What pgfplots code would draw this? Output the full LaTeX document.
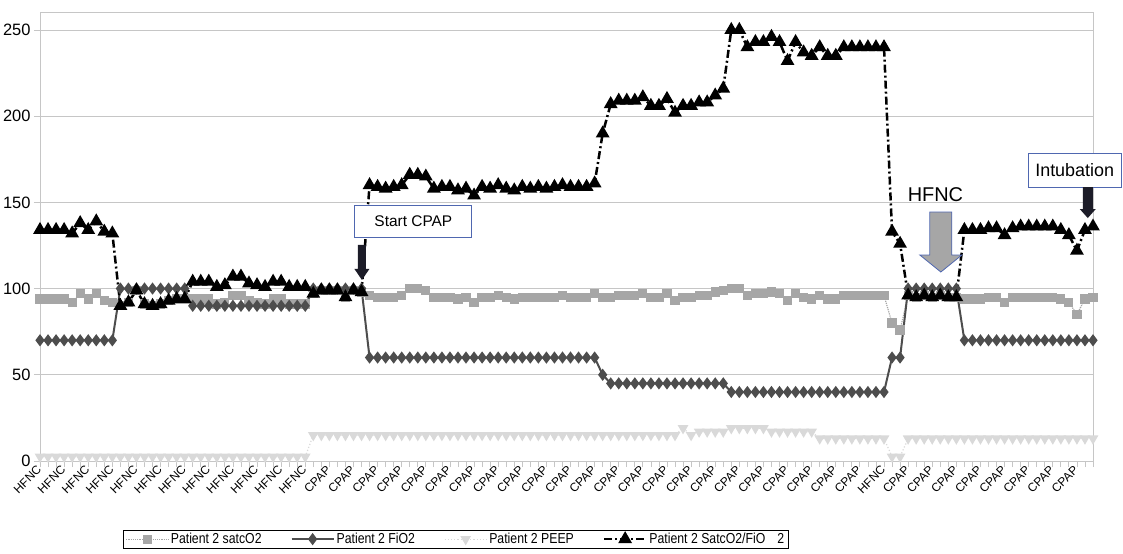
\documentclass[border=0pt]{standalone}
\usepackage{fontspec}
\setmainfont{Liberation Sans}
\newfontfamily\narrowfont[FakeStretch=0.85]{Liberation Sans}
\usepackage{pgfplots}
\usepackage{pgfplotstable}
\pgfplotsset{compat=1.18}

\definecolor{satc}{HTML}{A6A6A6}
\definecolor{fio}{HTML}{4D4D4D}
\definecolor{peep}{HTML}{D9D9D9}
\definecolor{gridc}{HTML}{C6C6C6}
\definecolor{boxblue}{HTML}{4F67B0}
\definecolor{arrowdark}{HTML}{1C1C28}

% i  satcO2  FiO2  PEEP  SatcO2/FiO2
\pgfplotstableread{
i sat fio peep ratio
0 94 70 2.5 134
1 94 70 2.5 134
2 94 70 2.5 134
3 94 70 2.5 134
4 92 70 2.5 132
5 97 70 2.5 138
6 94 70 2.5 134
7 97 70 2.5 139
8 93 70 2.5 133
9 92 70 2.5 132
10 90 100 2.5 90
11 92 100 2.5 92
12 99 100 2.5 99
13 91 100 2.5 91
14 90 100 2.5 90
15 91 100 2.5 91
16 93 100 2.5 93
17 94 100 2.5 94
18 94 100 2.5 94
19 94 90 2.5 104
20 94 90 2.5 104
21 94 90 2.5 104
22 91 90 2.5 101
23 92 90 2.5 102
24 96 90 2.5 107
25 96 90 2.5 107
26 93 90 2.5 103
27 92 90 2.5 102
28 91 90 2.5 101
29 94 90 2.5 104
30 94 90 2.5 104
31 91 90 2.5 101
32 91 90 2.5 101
33 91 90 2.5 101
34 97 100 15 97
35 99 100 15 99
36 99 100 15 99
37 99 100 15 99
38 95 100 15 95
39 99 100 15 99
40 98 100 15 98
41 96 60 15 160
42 95 60 15 159
43 95 60 15 158
44 95 60 15 159
45 96 60 15 160
46 100 60 15 166
47 100 60 15 166
48 99 60 15 165
49 95 60 15 158
50 95 60 15 159
51 95 60 15 159
52 94 60 15 157
53 95 60 15 158
54 92 60 15 154
55 95 60 15 159
56 95 60 15 158
57 96 60 15 160
58 95 60 15 158
59 94 60 15 157
60 95 60 15 159
61 95 60 15 158
62 95 60 15 159
63 95 60 15 158
64 95 60 15 159
65 96 60 15 160
66 95 60 15 159
67 95 60 15 159
68 95 60 15 159
69 97 60 15 161
70 95 50 15 190
71 95 45 15 207
72 96 45 15 209
73 96 45 15 209
74 96 45 15 209
75 97 45 15 211
76 95 45 15 206
77 95 45 15 206
78 97 45 15 210
79 93 45 15 202
80 95 45 19 206
81 95 45 15 206
82 96 45 17 208
83 96 45 17 208
84 98 45 17 212
85 99 45 17 216
86 100 40 19 250
87 100 40 19 250
88 96 40 19 240
89 97 40 19 243
90 97 40 19 243
91 98 40 17 246
92 97 40 17 243
93 93 40 17 232
94 97 40 17 243
95 95 40 17 237
96 94 40 17 235
97 96 40 13 240
98 94 40 13 235
99 94 40 13 235
100 96 40 13 240
101 96 40 13 240
102 96 40 13 240
103 96 40 13 240
104 96 40 13 240
105 96 40 13 240
106 80 60 2.5 133
107 76 60 2.5 126
108 96 100 13 96
109 95 100 13 95
110 96 100 13 96
111 95 100 13 95
112 96 100 13 96
113 95 100 13 95
114 95 100 13 95
115 94 70 13 134
116 94 70 13 134
117 94 70 13 134
118 95 70 13 135
119 95 70 13 135
120 92 70 13 131
121 95 70 13 135
122 95 70 13 136
123 95 70 13 136
124 95 70 13 136
125 95 70 13 136
126 95 70 13 136
127 94 70 13 134
128 92 70 13 131
129 85 70 13 122
130 94 70 13 134
131 95 70 13 136
}\patient

\begin{document}
\begin{tikzpicture}
\begin{axis}[
    scale only axis,
    width=1053bp, height=449bp,
    at={(0,0)}, anchor=south west,
    xmin=0, xmax=131, ymin=0, ymax=260.4,
    clip=false,
    axis line style={draw=gridc, line width=0.8bp},
    ytick={0,50,...,250},
    ymajorgrids=true,
    grid style={draw=gridc, line width=0.8bp},
    xtick={0,3,...,129},
    minor xtick={0,...,131},
    xticklabels={HFNC,HFNC,HFNC,HFNC,HFNC,HFNC,HFNC,HFNC,HFNC,HFNC,HFNC,HFNC,
        CPAP,CPAP,CPAP,CPAP,CPAP,CPAP,CPAP,CPAP,CPAP,CPAP,CPAP,CPAP,
        CPAP,CPAP,CPAP,CPAP,CPAP,CPAP,CPAP,CPAP,CPAP,CPAP,CPAP,
        HFNC,CPAP,CPAP,CPAP,CPAP,CPAP,CPAP,CPAP,CPAP},
    xtick pos=lower, ytick pos=left,
    tick align=outside,
    major tick length=6bp, minor tick length=6bp,
    tick style={draw=gridc, line width=0.8bp},
    xticklabel style={rotate=45, anchor=east, inner sep=1bp,
        font=\fontsize{12}{12}\selectfont},
    yticklabel style={font=\fontsize{16.5}{16.5}\selectfont},
    /pgf/number format/assume math mode=true,
    legend columns=4,
    legend style={at={(0.395,-0.174)}, anchor=center,
        draw=black, line width=0.6bp,
        font=\narrowfont\fontsize{14.5}{14.5}\selectfont,
        inner xsep=2bp, inner ysep=1bp,
        /tikz/every even column/.append style={column sep=27bp}},
    legend cell align=left,
    legend image code/.code={
        \draw[mark repeat=2, mark phase=2, #1]
            plot coordinates {(0bp,0bp) (21bp,0bp) (42bp,0bp)};},
]
\addplot[color=satc, line width=1.2bp, densely dotted,
    mark=square*, mark size=4bp, mark options={solid, fill=satc}]
    table[x=i, y=sat] {\patient};
\addlegendentry{Patient 2 satcO2}
\addplot[color=fio, line width=2bp,
    mark=diamond*, mark size=4.5bp, mark options={solid, fill=fio}]
    table[x=i, y=fio] {\patient};
\addlegendentry{Patient 2 FiO2}
\addplot[color=peep, line width=1.2bp, dotted,
    mark=triangle*, mark size=5bp, mark options={solid, fill=peep, rotate=180}]
    table[x=i, y=peep] {\patient};
\addlegendentry{Patient 2 PEEP}
\addplot[color=black, line width=2.5bp,
    dash pattern=on 8bp off 3bp on 2bp off 3bp,
    mark=triangle*, mark size=5.5bp, mark options={solid, fill=black}]
    table[x=i, y=ratio] {\patient};
\addlegendentry{Patient 2 SatcO2/FiO\hspace{12bp}2}

\coordinate (startbox) at (axis cs:46.45,139.2);
\coordinate (starttip) at (axis cs:40.05,105);
\coordinate (hfnctext) at (axis cs:111.4,154.2);
\coordinate (hfnctip) at (axis cs:112.07,109.6);
\coordinate (intbox) at (axis cs:122.9,168.7);
\coordinate (inttip) at (axis cs:130.35,140.9);
\end{axis}

% annotations
\node[draw=boxblue, line width=0.8bp, fill=white, minimum width=117bp,
    minimum height=32bp, font=\fontsize{15.5}{15.5}\selectfont]
    at (startbox) {Start CPAP};
\fill[arrowdark, shift={(starttip)}]
    (0bp,0bp) -- (-7.5bp,11bp) -- (-4bp,11bp) -- (-4bp,35bp) -- (4bp,35bp)
    -- (4bp,11bp) -- (7.5bp,11bp) -- cycle;
\node[font=\fontsize{20}{20}\selectfont] at (hfnctext) {HFNC};
\filldraw[fill=satc, draw=boxblue, line width=0.8bp, shift={(hfnctip)}]
    (0bp,0bp) -- (-21bp,17bp) -- (-11bp,17bp) -- (-11bp,60bp) -- (11bp,60bp)
    -- (11bp,17bp) -- (21bp,17bp) -- cycle;
\node[draw=boxblue, line width=0.8bp, fill=white, anchor=west,
    minimum height=34bp, inner xsep=7bp, font=\fontsize{18}{18}\selectfont]
    at (intbox) {Intubation};
\fill[arrowdark, shift={(inttip)}]
    (0bp,0bp) -- (-8bp,9bp) -- (-5bp,9bp) -- (-5bp,31bp) -- (5bp,31bp)
    -- (5bp,9bp) -- (8bp,9bp) -- cycle;

\pgfresetboundingbox
\useasboundingbox (-40bp,-93bp) rectangle (1083bp,461bp);
\end{tikzpicture}
\end{document}
